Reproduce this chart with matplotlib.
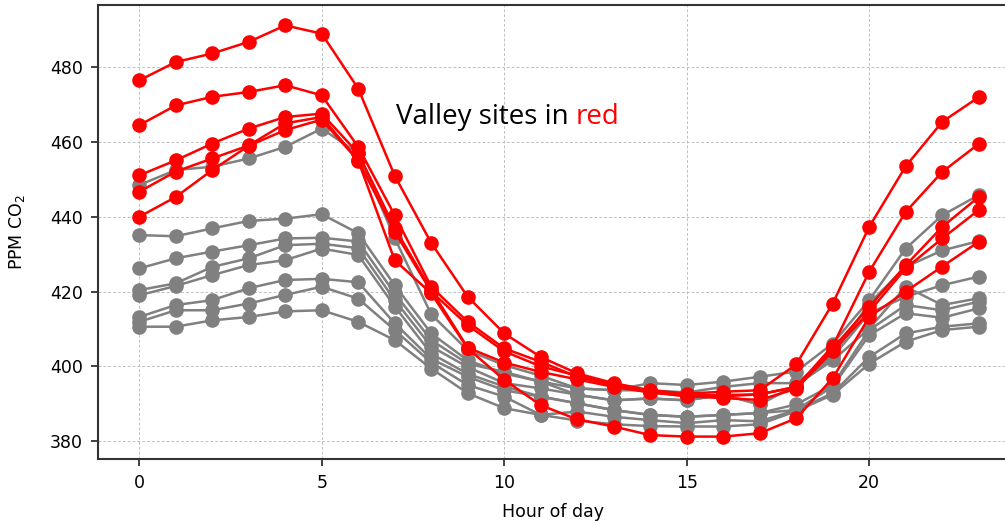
import matplotlib
matplotlib.use("Agg")
import matplotlib.pyplot as plt

hours = list(range(24))

# Valley sites (drawn in red)
valley_sites = [
    [476.5, 481.4, 483.7, 486.8, 491.2, 489.0, 474.3, 451.0, 433.0, 418.6, 408.8, 402.5,
     398.1, 395.5, 393.6, 392.7, 393.2, 393.6, 400.5, 416.8, 437.3, 453.5, 465.4, 472.0],
    [464.5, 469.8, 472.1, 473.4, 475.2, 472.5, 458.7, 440.4, 421.3, 411.9, 404.8, 401.2,
     397.2, 395.0, 393.0, 392.3, 392.3, 392.5, 394.5, 405.4, 425.3, 441.3, 452.0, 459.5],
    [451.1, 455.1, 459.6, 463.6, 466.7, 467.6, 457.0, 437.0, 420.4, 405.0, 401.0, 398.5,
     396.5, 394.5, 393.0, 392.0, 392.0, 392.5, 394.5, 404.8, 415.9, 427.0, 437.3, 445.3],
    [446.7, 452.1, 455.6, 459.1, 465.0, 466.7, 455.1, 436.0, 420.0, 411.0, 404.0, 400.0,
     397.5, 395.0, 393.2, 392.0, 391.5, 391.0, 394.0, 404.0, 414.6, 426.2, 434.2, 441.8],
    [440.0, 445.3, 452.5, 459.0, 463.2, 466.0, 455.0, 428.4, 419.5, 404.8, 396.4, 389.6,
     385.8, 383.9, 381.6, 381.2, 381.2, 382.1, 386.1, 396.8, 413.2, 420.0, 426.7, 433.3],
]

# Other sites (drawn in gray)
other_sites = [
    [448.5, 452.5, 453.4, 455.6, 458.7, 463.6, 457.0, 434.3, 413.9, 404.3, 400.3, 397.5,
     394.1, 393.6, 395.5, 395.0, 395.9, 397.2, 398.6, 406.1, 417.7, 431.5, 440.4, 445.8],
    [435.1, 434.8, 436.9, 438.9, 439.5, 440.7, 435.6, 421.7, 408.8, 401.6, 398.1, 395.9,
     394.1, 393.6, 393.6, 393.0, 394.5, 395.5, 395.5, 403.0, 416.8, 426.6, 431.0, 433.5],
    [426.2, 428.9, 430.7, 432.4, 434.2, 434.4, 433.4, 419.5, 407.0, 400.7, 398.5, 395.9,
     392.4, 390.9, 391.4, 390.9, 392.4, 389.8, 395.0, 402.5, 414.2, 418.6, 421.7, 424.0],
    [420.4, 422.2, 426.6, 428.9, 432.4, 432.8, 431.6, 417.7, 405.3, 399.8, 395.5, 394.1,
     392.4, 390.9, 391.4, 390.9, 392.4, 389.8, 395.0, 401.6, 410.1, 421.3, 416.4, 418.2],
    [419.0, 421.5, 424.4, 427.1, 428.4, 431.5, 429.8, 416.0, 403.4, 398.0, 394.6, 391.9,
     390.1, 388.3, 387.0, 386.5, 387.0, 387.5, 389.8, 395.0, 409.7, 416.4, 415.0, 417.3],
    [413.2, 416.4, 417.7, 420.9, 423.1, 423.4, 422.5, 411.5, 402.0, 397.2, 393.6, 391.9,
     390.1, 388.3, 387.0, 386.5, 387.0, 387.5, 388.3, 394.6, 408.3, 414.2, 413.0, 415.5],
    [411.9, 415.0, 415.0, 416.8, 419.1, 421.3, 418.1, 409.7, 401.0, 395.0, 391.9, 387.0,
     387.9, 386.5, 385.6, 384.8, 385.6, 385.3, 388.3, 392.8, 402.5, 408.8, 410.6, 411.5],
    [410.6, 410.6, 412.3, 413.2, 414.7, 415.0, 411.9, 407.0, 399.4, 392.8, 388.8, 387.0,
     385.5, 384.5, 384.0, 383.9, 383.9, 384.5, 388.0, 392.4, 400.7, 406.6, 409.7, 410.6],
]

xticks = [0, 5, 10, 15, 20]
yticks = [380, 400, 420, 440, 460, 480]

fig = plt.figure(figsize=(10.05, 5.24), dpi=100)
ax = fig.add_axes([0.0975, 0.124, 0.905, 0.866])

for series in other_sites:
    ax.plot(hours, series, color="#808080", marker="o", markersize=9.5, linewidth=1.8)
for series in valley_sites:
    ax.plot(hours, series, color="#ff0000", marker="o", markersize=9.5, linewidth=1.8)

ax.set_xlim(-1.13, 23.79)
ax.set_ylim(375.2, 496.6)
ax.set_xticks(xticks)
ax.set_yticks(yticks)
ax.grid(True, linestyle=(0, (3, 2)), color="#c0c0c0", linewidth=0.7)
ax.set_axisbelow(True)

for side in ["left", "bottom", "top", "right"]:
    ax.spines[side].set_color("#333333")
    ax.spines[side].set_linewidth(1.5)

ax.tick_params(axis="both", labelsize=12.5, length=5, width=1.3, color="#333333", pad=6)
ax.set_xlabel("Hour of day", fontsize=12.5, labelpad=8)
ax.set_ylabel("PPM CO$_2$", fontsize=12.5, labelpad=16)

txt = ax.text(7.03, 466.6, "Valley sites in ", fontsize=20, family="Open Sans",
              ha="left", va="center", color="black")
ax.annotate("red", xy=(1, 0.5), xycoords=txt, ha="left", va="center",
            fontsize=20, family="Open Sans", color="#ff0000")

fig.savefig("out.png", dpi=100)
